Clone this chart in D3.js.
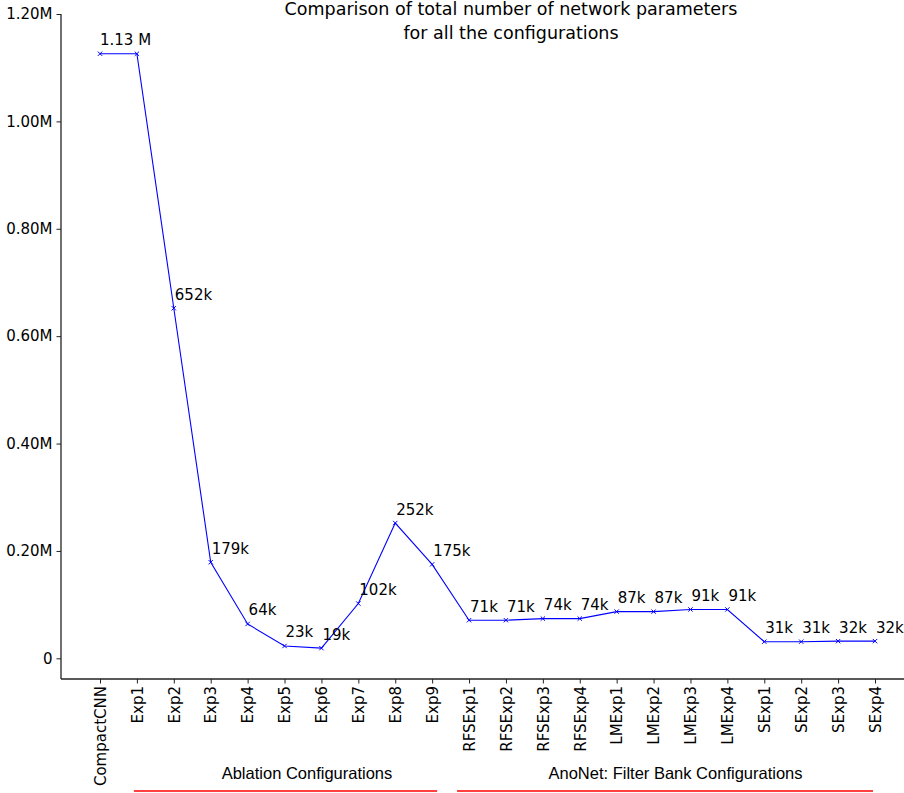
<!DOCTYPE html>
<html><head><meta charset="utf-8">
<script src="https://cdn.jsdelivr.net/npm/d3@7/dist/d3.min.js"></script>
<style>body{margin:0;background:#fff}svg{display:block}</style>
</head><body><svg id="c" width="904" height="793"></svg>
<script>
const categories = ["CompactCNN","Exp1","Exp2","Exp3","Exp4","Exp5","Exp6","Exp7","Exp8","Exp9",
  "RFSExp1","RFSExp2","RFSExp3","RFSExp4","LMExp1","LMExp2","LMExp3","LMExp4",
  "SExp1","SExp2","SExp3","SExp4"];
const params = [1126000,1126000,652000,179000,64000,23000,19000,102000,252000,175000,
  71000,71000,74000,74000,87000,87000,91000,91000,31000,31000,32000,32000];
const pointLabels = ["1.13 M","","652k","179k","64k","23k","19k","102k","252k","175k",
  "71k","71k","74k","74k","87k","87k","91k","91k","31k","31k","32k","32k"];
const yTicks = [0,200000,400000,600000,800000,1000000,1200000];
const yTickLabels = ["0","0.20M","0.40M","0.60M","0.80M","1.00M","1.20M"];
const titleLines = ["Comparison of total number of network parameters","for all the configurations"];
const groupLabels = ["Ablation Configurations","AnoNet: Filter Bank Configurations"];

const svg = d3.select("#c");
const font = "DejaVu Sans, sans-serif";
const axisX0 = 61, axisY = 679, yTop = 14;
const x = d3.scalePoint().domain(categories).range([100, 875]);
const y = d3.scaleLinear().domain([-38500, 1200000]).range([axisY, yTop]);

// title
svg.append("g").selectAll("text").data(titleLines).join("text")
  .attr("x", 511).attr("y", (d,i)=>15+i*24)
  .attr("text-anchor","middle").attr("font-family",font).attr("font-size",17.5)
  .attr("fill","#000").text(d=>d);

// y axis
const yAxis = svg.append("g").attr("transform",`translate(${axisX0},0)`)
  .call(d3.axisLeft(y).tickValues(yTicks).tickFormat((d,i)=>yTickLabels[i]).tickSize(4.5).tickPadding(4));
yAxis.select(".domain").attr("d",`M0,${yTop}V${axisY}`);
// x axis
const xAxis = svg.append("g").attr("transform",`translate(0,${axisY})`)
  .call(d3.axisBottom(x).tickSize(4.5).tickPadding(0));
xAxis.select(".domain").attr("d",`M${axisX0},0H904`);
[yAxis,xAxis].forEach(a=>{
  a.select(".domain").attr("stroke","#222").attr("stroke-width",1.3);
  a.selectAll(".tick line").attr("stroke","#222").attr("stroke-width",1);
  a.selectAll("text").attr("font-family",font).attr("font-size",15).attr("fill","#000");
});
xAxis.selectAll(".tick text")
  .attr("transform","rotate(-90)")
  .attr("text-anchor","end").attr("x",-7).attr("y",0).attr("dy","0.35em");

// line
svg.append("path").datum(params)
  .attr("fill","none").attr("stroke","#0000ff").attr("stroke-width",1.1)
  .attr("d", d3.line().x((d,i)=>x(categories[i])).y(d=>y(d)));
// markers
svg.append("g").selectAll("path").data(params).join("path")
  .attr("transform",(d,i)=>`translate(${x(categories[i])},${y(d)})`)
  .attr("d", d3.symbol(d3.symbolX, 14))
  .attr("fill","none").attr("stroke","#0000ff").attr("stroke-width",1);
// point labels
svg.append("g").selectAll("text").data(params).join("text")
  .attr("x",(d,i)=>x(categories[i])+(i===0?0:1))
  .attr("y",d=>y(d)-8.5)
  .attr("font-family",font).attr("font-size",15).attr("fill","#000")
  .text((d,i)=>pointLabels[i]);

// group labels and red underlines (layout positions)
const groupLayout = [
  {cx:307, x1:x("Exp1")-3, x2:x("Exp9")+5},
  {cx:675.5, x1:x("RFSExp1")-12, x2:x("SExp4")-2}
];
const g = svg.append("g").selectAll("g").data(groupLabels).join("g");
g.append("text")
  .attr("x", (d,i)=>groupLayout[i].cx)
  .attr("y", 779)
  .attr("text-anchor","middle").attr("font-family","Liberation Sans, Arial, sans-serif")
  .attr("font-size",16.5).attr("fill","#000").text(d=>d);
g.append("line")
  .attr("x1", (d,i)=>groupLayout[i].x1).attr("x2", (d,i)=>groupLayout[i].x2)
  .attr("y1",791).attr("y2",791)
  .attr("stroke","#ff0000").attr("stroke-width",1.3);
</script></body></html>
